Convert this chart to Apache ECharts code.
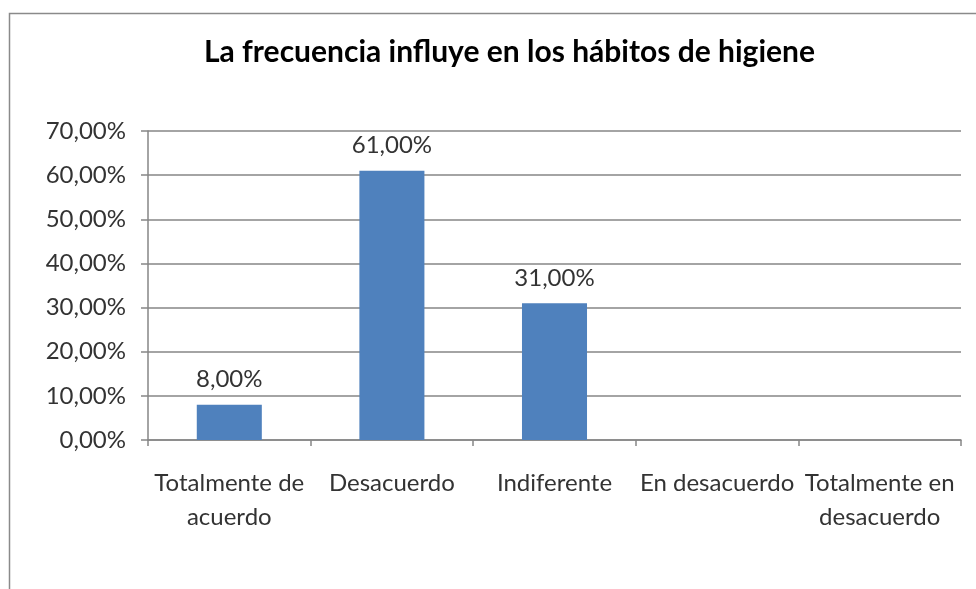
<!DOCTYPE html>
<html>
<head>
<meta charset="utf-8">
<script src="https://cdn.jsdelivr.net/npm/echarts@6/dist/echarts.min.js"></script>
<style>html,body{margin:0;padding:0;background:#fff}#c{width:976px;height:589px}</style>
</head>
<body>
<div id="c"></div>
<script>
const titleText = "La frecuencia influye en los hábitos de higiene";
const categories = ["Totalmente de\nacuerdo", "Desacuerdo", "Indiferente", "En desacuerdo", "Totalmente en\ndesacuerdo"];
const values = [8, 61, 31, null, null];
const yTicks = [0, 10, 20, 30, 40, 50, 60, 70];

const FONT = 'Lato';
const fmt = v => v.toFixed(2).replace('.', ',') + '%';
const chart = echarts.init(document.getElementById('c'));
chart.setOption({
  animation: false,
  backgroundColor: '#fff',
  graphic: [{
    type: 'rect', left: 7, top: 11, shape: {width: 1000, height: 600},
    style: {fill: 'none', stroke: '#8a8a8a', lineWidth: 1.5}, silent: true
  }],
  title: {
    text: titleText, left: 199, top: 32,
    textStyle: {fontFamily: FONT, fontWeight: 'bold', fontSize: 30, color: '#000'}
  },
  grid: {left: 148, right: 15, top: 131, bottom: 149},
  xAxis: {
    type: 'category', data: categories,
    axisLine: {lineStyle: {color: '#868686', width: 1.5}},
    axisTick: {show: true, interval: 0, length: 6, alignWithLabel: false, lineStyle: {color: '#868686', width: 1.5}},
    axisLabel: {interval: 0, margin: 26, fontFamily: FONT, fontSize: 24, lineHeight: 34, color: '#333'}
  },
  yAxis: {
    type: 'value', min: yTicks[0], max: yTicks[yTicks.length - 1], interval: 10,
    axisLine: {show: true, lineStyle: {color: '#868686', width: 1.5}},
    axisTick: {show: true, length: 7, lineStyle: {color: '#868686', width: 1.5}},
    splitLine: {lineStyle: {color: '#868686', width: 1.5}},
    axisLabel: {formatter: fmt, margin: 22, fontFamily: FONT, fontSize: 24, color: '#333'}
  },
  series: [{
    type: 'bar', data: values, barWidth: '40%',
    itemStyle: {color: '#4F81BD'},
    label: {show: true, position: 'top', distance: 13, formatter: p => fmt(p.value),
      fontFamily: FONT, fontSize: 24, color: '#333'}
  }]
});
</script>
</body>
</html>
